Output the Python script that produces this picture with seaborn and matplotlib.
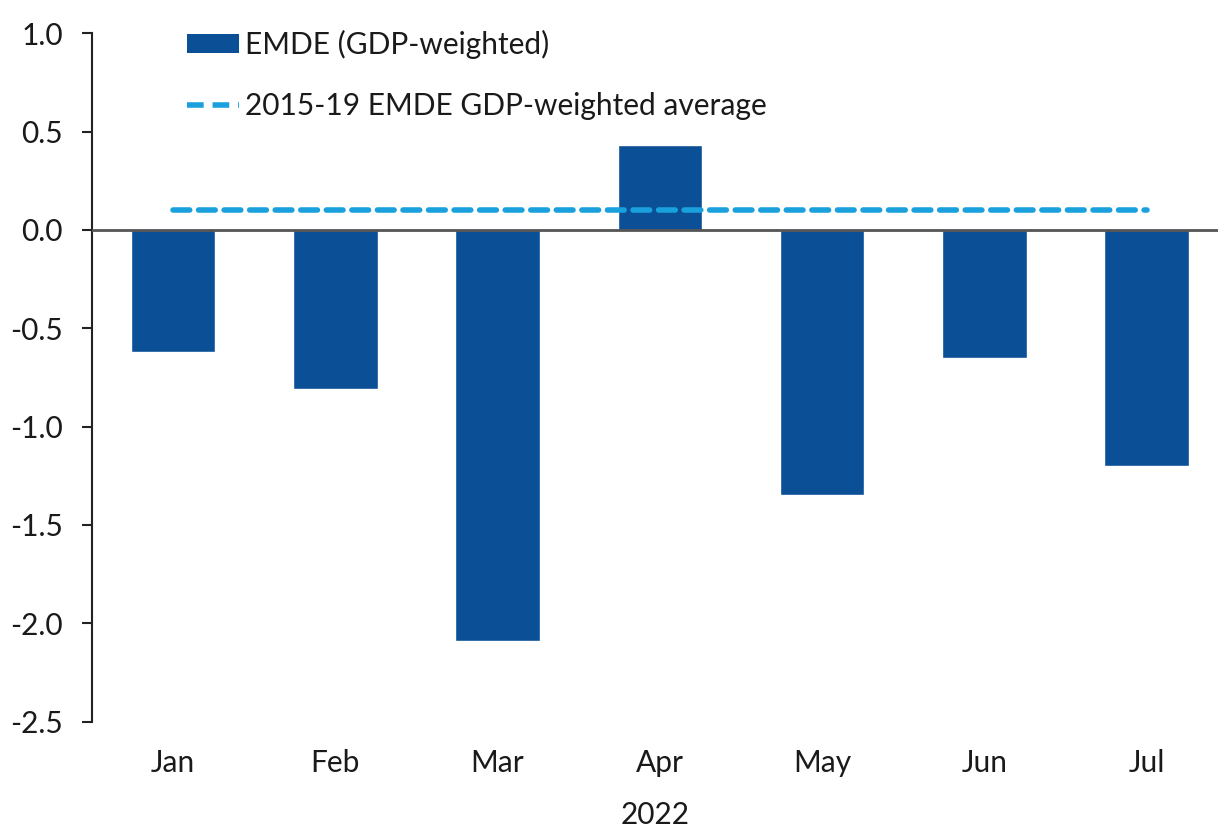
import matplotlib
matplotlib.use("Agg")
import matplotlib.pyplot as plt
import seaborn as sns
import pandas as pd
from matplotlib.patches import Patch
from matplotlib.lines import Line2D

months = ["Jan", "Feb", "Mar", "Apr", "May", "Jun", "Jul"]
emde_gdp_weighted = [-0.62, -0.81, -2.09, 0.43, -1.35, -0.65, -1.20]
avg_2015_19 = [0.1, 0.1, 0.1, 0.1, 0.1, 0.1, 0.1]
y_ticks = [1.0, 0.5, 0.0, -0.5, -1.0, -1.5, -2.0, -2.5]

bar_color = "#0B4F96"
avg_color = "#1AA0DC"
text_color = "#1a1a1a"
fs = 21.5

sns.set_theme(style="white")
plt.rcParams["font.family"] = ["Lato", "DejaVu Sans"]

df = pd.DataFrame({"month": months, "value": emde_gdp_weighted,
                   "avg": avg_2015_19, "pos": range(len(months))})

fig = plt.figure(figsize=(12.18, 8.30), dpi=100)
ax = fig.add_axes([0.0755, 0.1305, 0.9245, 0.8295])

sns.barplot(data=df, x="month", y="value", color=bar_color, width=0.52,
            saturation=1, ax=ax)
sns.lineplot(data=df, x="pos", y="avg", color=avg_color, linewidth=4,
             dashes=False, ax=ax, zorder=3)
ax.lines[-1].set_dashes([3, 1.6])
ax.lines[-1].set_dash_capstyle("round")

ax.axhline(0, color="#555555", linewidth=2, zorder=4)

ax.set_xlim(-0.5, 6.44)
ax.set_ylim(-2.5, 1.0)
ax.set_yticks(y_ticks)
ax.set_yticklabels([f"{t:.1f}" for t in y_ticks])
ax.set_xticks(range(len(months)))
ax.set_xticklabels(months)

for s in ["top", "right", "bottom"]:
    ax.spines[s].set_visible(False)
ax.spines["left"].set_color("#222222")
ax.spines["left"].set_linewidth(1.5)

ax.tick_params(axis="y", which="both", left=True, length=7, width=1.5,
               color="#222222", labelsize=fs, pad=14, labelcolor=text_color)
ax.tick_params(axis="x", length=0, labelsize=fs, pad=20, labelcolor=text_color)
ax.set_ylabel("")
ax.set_xlabel("2022", fontsize=fs, color=text_color, labelpad=17)

handles = [Patch(facecolor=bar_color, edgecolor="none"),
           Line2D([0], [0], color=avg_color, linewidth=4, dashes=[3, 1.6])]
labels = ["EMDE (GDP-weighted)", "2015-19 EMDE GDP-weighted average"]
leg = ax.legend(handles, labels, loc="upper left",
                bbox_to_anchor=(0.074, 1.022), frameon=False, fontsize=fs,
                handlelength=1.75, handleheight=0.6, handletextpad=0.2,
                labelspacing=1.1, borderaxespad=0)
for t in leg.get_texts():
    t.set_color(text_color)

fig.savefig("out.png", dpi=100)
